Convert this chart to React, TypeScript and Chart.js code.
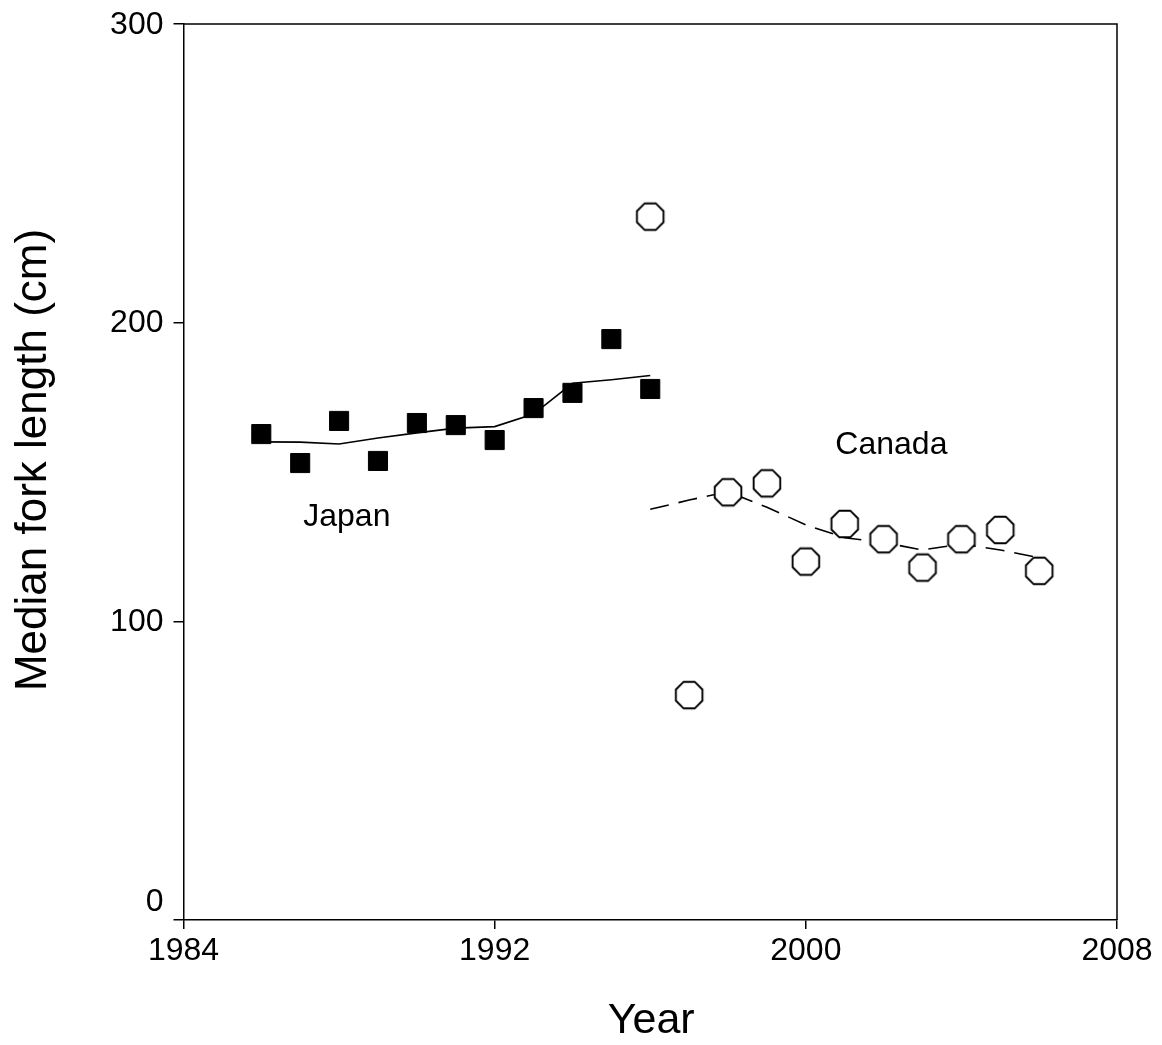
import { useEffect, useRef } from "react";
import { Chart, registerables } from "chart.js";

Chart.register(...registerables);

// ---- data ----
const japanYears = [1986, 1987, 1988, 1989, 1990, 1991, 1992, 1993, 1994, 1995, 1996];
const japanMedian = [162.7, 153.0, 167.1, 153.7, 166.4, 165.7, 160.7, 171.4, 176.5, 194.5, 177.8];
const japanTrend = [160.1, 160.0, 159.4, 161.4, 163.1, 164.7, 165.2, 169.4, 179.7, 180.9, 182.3];

const canadaYears = [1996, 1997, 1998, 1999, 2000, 2001, 2002, 2003, 2004, 2005, 2006];
const canadaMedian = [235.5, 75.3, 143.2, 146.2, 120.0, 132.6, 127.5, 118.0, 127.5, 130.6, 116.9];
const canadaTrend = [137.5, 140.6, 143.4, 138.2, 132.3, 128.0, 126.4, 123.9, 125.9, 123.9, 121.3];

const xTicks = [1984, 1992, 2000, 2008];
const yTicks = [0, 100, 200, 300];

const xTitle = "Year";
const yTitle = "Median fork length (cm)";
const seriesLabels = ["Japan", "Canada"];

const FONT = '"Liberation Sans", Arial, sans-serif';

function makeOctagon(): HTMLCanvasElement {
  const c = document.createElement("canvas");
  c.width = 32;
  c.height = 32;
  const ctx = c.getContext("2d")!;
  const r = 14.4;
  ctx.beginPath();
  for (let k = 0; k < 8; k++) {
    const a = Math.PI / 8 + (k * Math.PI) / 4;
    const px = 16 + r * Math.cos(a);
    const py = 16 + r * Math.sin(a);
    if (k === 0) ctx.moveTo(px, py);
    else ctx.lineTo(px, py);
  }
  ctx.closePath();
  ctx.fillStyle = "#ffffff";
  ctx.fill();
  ctx.lineWidth = 1.9;
  ctx.strokeStyle = "#000000";
  ctx.stroke();
  return c;
}

export default function App() {
  const ref = useRef<HTMLCanvasElement | null>(null);

  useEffect(() => {
    document.body.style.margin = "0";
    const canvas = ref.current;
    if (!canvas) return;
    const octagon = makeOctagon();

    const overlay = {
      id: "overlay",
      afterDraw(chart: any) {
        const { ctx, chartArea } = chart;
        const xs = chart.scales.x;
        const ys = chart.scales.y;
        ctx.save();
        // frame: top and right
        ctx.strokeStyle = "#000";
        ctx.lineWidth = 1.5;
        ctx.beginPath();
        ctx.moveTo(chartArea.left, chartArea.top);
        ctx.lineTo(chartArea.right, chartArea.top);
        ctx.lineTo(chartArea.right, chartArea.bottom);
        ctx.stroke();

        ctx.fillStyle = "#000";
        ctx.font = `32px ${FONT}`;
        // y tick labels
        ctx.textAlign = "right";
        ctx.textBaseline = "middle";
        yTicks.forEach((v) => {
          const py = ys.getPixelForValue(v) + (v === 0 ? -18 : 1);
          ctx.fillText(String(v), chartArea.left - 20, py);
        });
        // x tick labels
        ctx.textAlign = "center";
        xTicks.forEach((v) => {
          ctx.fillText(String(v), xs.getPixelForValue(v), chartArea.bottom + 31);
        });
        // annotations
        ctx.fillText(seriesLabels[0], xs.getPixelForValue(1988.2), ys.getPixelForValue(135.0));
        ctx.fillText(seriesLabels[1], xs.getPixelForValue(2002.2), ys.getPixelForValue(159.0));
        // x title
        ctx.font = `43px ${FONT}`;
        ctx.fillText(xTitle, (chartArea.left + chartArea.right) / 2 + 1, chartArea.bottom + 101);
        // y title
        ctx.font = `44px ${FONT}`;
        ctx.translate(34, 460);
        ctx.rotate(-Math.PI / 2);
        ctx.fillText(yTitle, 0, 0);
        ctx.restore();
      },
    };

    const chart = new Chart(canvas, {
      type: "scatter",
      data: {
        datasets: [
          {
            label: "Japan trend",
            data: japanYears.map((x, i) => ({ x, y: japanTrend[i] })),
            showLine: true,
            borderColor: "#000",
            borderWidth: 1.6,
            pointRadius: 0,
            pointHoverRadius: 0,
            fill: false,
            order: 3,
          },
          {
            label: "Canada trend",
            data: canadaYears.map((x, i) => ({ x, y: canadaTrend[i] })),
            showLine: true,
            borderColor: "#000",
            borderWidth: 1.6,
            borderDash: [19, 10],
            pointRadius: 0,
            pointHoverRadius: 0,
            fill: false,
            order: 3,
          },
          {
            label: "Japan",
            data: japanYears.map((x, i) => ({ x, y: japanMedian[i] })),
            pointStyle: "rect",
            pointRadius: 13.5,
            pointBackgroundColor: "#000",
            pointBorderColor: "#000",
            pointBorderWidth: 1,
            order: 1,
          },
          {
            label: "Canada",
            data: canadaYears.map((x, i) => ({ x, y: canadaMedian[i] })),
            pointStyle: octagon as any,
            pointRadius: 15,
            order: 1,
          },
        ],
      },
      options: {
        responsive: false,
        animation: false,
        events: [],
        layout: { padding: { left: 0, top: 24, right: 45, bottom: 0 } },
        plugins: {
          legend: { display: false },
          tooltip: { enabled: false },
          title: { display: false },
        },
        scales: {
          x: {
            type: "linear",
            min: 1984,
            max: 2008,
            afterFit: (s: any) => {
              s.height = 125;
            },
            ticks: {
              stepSize: 8,
              color: "rgba(0,0,0,0)",
              font: { size: 32, family: FONT },
            },
            afterBuildTicks: (s: any) => {
              s.ticks = xTicks.map((v) => ({ value: v }));
            },
            grid: {
              display: true,
              drawOnChartArea: false,
              drawTicks: true,
              tickLength: 9,
              color: "#000",
              lineWidth: 1.5,
            },
            border: { display: true, color: "#000", width: 1.5 },
          },
          y: {
            type: "linear",
            min: 0,
            max: 300,
            afterFit: (s: any) => {
              s.width = 183.5;
            },
            ticks: {
              stepSize: 100,
              color: "rgba(0,0,0,0)",
              font: { size: 32, family: FONT },
            },
            afterBuildTicks: (s: any) => {
              s.ticks = yTicks.map((v) => ({ value: v }));
            },
            grid: {
              display: true,
              drawOnChartArea: false,
              drawTicks: true,
              tickLength: 10,
              color: "#000",
              lineWidth: 1.5,
            },
            border: { display: true, color: "#000", width: 1.5 },
          },
        },
      },
      plugins: [overlay],
    });

    return () => chart.destroy();
  }, []);

  return (
    <div style={{ width: 1162, height: 1045, background: "#fff" }}>
      <canvas ref={ref} width={1162} height={1045} style={{ display: "block", width: 1162, height: 1045 }} />
    </div>
  );
}
